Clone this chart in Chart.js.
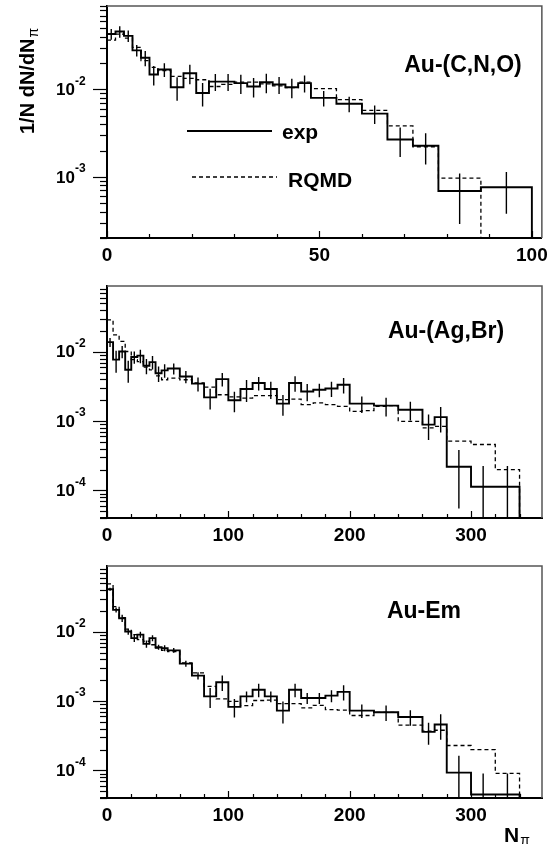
<!DOCTYPE html>
<html><head><meta charset="utf-8">
<script src="https://cdn.jsdelivr.net/npm/chart.js@4/dist/chart.umd.min.js"></script>
<style>
html,body{margin:0;padding:0;background:#fff;}
#wrap{position:relative;width:554px;height:844px;overflow:hidden;background:#fff;}
canvas{position:absolute;left:0;}
</style></head><body>
<div id="wrap">
<canvas id="c1" width="554" height="280" style="top:0;width:554px;height:280px"></canvas>
<canvas id="c2" width="554" height="280" style="top:280px;width:554px;height:280px"></canvas>
<canvas id="c3" width="554" height="284" style="top:560px;width:554px;height:284px"></canvas>
</div>
<script>
// ---------- DATA ----------
// Panel 1: Au-(C,N,O)
const cnoEdges = [0,2,4,6,8,10,12,15,18,21,24,27,30,33,36,39,42,45,48,54,60,66,72,78,88,100];
const cnoExp = [0.043,0.046,0.041,0.028,0.023,0.0148,0.0169,0.0106,0.0153,0.0091,0.0123,0.0123,0.0118,0.0108,0.0121,0.0114,0.0106,0.0118,0.0080,0.00687,0.00529,0.00268,0.00227,0.00069,0.00076];
const cnoExpRelErr = [0.14,0.15,0.15,0.15,0.2,0.25,0.18,0.3,0.25,0.3,0.22,0.22,0.25,0.25,0.25,0.22,0.25,0.22,0.2,0.2,0.24,0.37,0.39,0.58,0.5];
const cnoRqmdEdges = [0,2,4,6,8,10,12,15,18,21,24,27,30,33,36,39,42,45,48,54,60,66,72,78,88];
const cnoRqmd = [0.0367,0.043,0.0386,0.0303,0.0214,0.0179,0.0164,0.0141,0.0134,0.0129,0.0108,0.0114,0.0121,0.0121,0.0116,0.011,0.0105,0.0121,0.0102,0.00763,0.00577,0.00383,0.00221,0.000966];

// Panels 2 & 3 share binning
const heavyExpEdges = [0,5,10,15,20,25,30,35,40,45,50,60,70,80,90,100,110,120,130,140,150,160,170,180,190,200,220,240,260,270,280,300,320,340];
const heavyRqmdEdges = [0,5,10,15,20,25,30,35,40,45,50,60,70,80,90,100,110,120,130,140,150,160,170,180,190,200,210,220,230,240,250,260,270,280,290,300,310,320,330,340];

// Panel 2: Au-(Ag,Br)
const agbrExp = [0.0138,0.0077,0.0101,0.0055,0.0084,0.0088,0.0063,0.0071,0.0049,0.0054,
  0.00575,0.00441,0.00347,0.0022,0.00404,0.0020,0.0029,0.00355,0.0029,0.00179,0.00355,0.00268,0.00284,0.00296,0.00335,
  0.00179,0.00167,0.00146,0.00089,0.00114,0.000219,0.000113,0.000113];
const agbrExpRelErr = [0.15,0.35,0.2,0.35,0.2,0.22,0.25,0.22,0.25,0.22,
  0.18,0.2,0.23,0.33,0.22,0.33,0.35,0.22,0.28,0.33,0.25,0.28,0.22,0.25,0.25,
  0.27,0.3,0.3,0.4,0.4,0.75,1.0,1.0];
const agbrRqmd = [0.0289,0.0176,0.0141,0.0101,0.0077,0.0072,0.006,0.0055,0.0045,0.00395,
  0.00418,0.00395,0.00355,0.0031,0.0024,0.00223,0.00215,0.00233,0.00233,0.00204,0.00208,0.00173,
  0.00183,0.00173,0.00163,0.00138,0.00142,0.00163,0.00167,0.00099,0.00099,0.000797,0.00084,0.000513,0.000513,0.00046,0.00046,0.0002,0.0002];

// Panel 3: Au-Em
const emExp = [0.0411,0.0207,0.0157,0.0101,0.0081,0.0091,0.0067,0.0081,0.006,0.0058,
  0.0054,0.00347,0.00233,0.00117,0.00187,0.000826,0.00117,0.00146,0.00117,0.00073,0.00146,0.00111,0.00111,0.0012,0.00136,
  0.00073,0.00069,0.00059,0.00036,0.00046,0.000093,0.000045,0.000045];
const emExpRelErr = [0.05,0.08,0.12,0.1,0.12,0.1,0.12,0.1,0.08,0.1,
  0.08,0.1,0.12,0.32,0.25,0.3,0.18,0.22,0.18,0.35,0.22,0.18,0.18,0.2,0.25,
  0.22,0.25,0.25,0.35,0.4,0.75,1.0,1.0];
const emRqmd = [0.049,0.0231,0.016,0.0109,0.0091,0.0077,0.0073,0.0065,0.0058,0.0054,
  0.0052,0.00355,0.00255,0.00163,0.00108,0.00099,0.00086,0.00102,0.00103,0.00092,0.00092,0.0008,
  0.00087,0.000755,0.00074,0.00062,0.00062,0.00069,0.00069,0.00045,0.00045,0.00037,0.00038,0.000229,0.000229,0.0002,0.0002,0.0000905,0.0000905];

// Tick labels
const cnoXTicks = [0,50,100];
const heavyXTicks = [0,100,200,300];
const cnoYLabelPowers = [-2,-3];
const heavyYLabelPowers = [-2,-3,-4];

// Text
const panelNames = ['Au-(C,N,O)','Au-(Ag,Br)','Au-Em'];
const legendNames = ['exp','RQMD'];
const yTitle = '1/N dN/dN';
const xTitle = 'N';
const subPi = '\u03c0';

// ---------- helpers ----------
const FONT = "'Liberation Sans', Arial, Helvetica, sans-serif";
const FLOOR = 1e-9;

function stepPoints(edges, vals){
  const pts = [];
  for (let i=0;i<vals.length;i++) pts.push({x:edges[i], y:vals[i]});
  const n = vals.length;
  pts.push({x:edges[n], y:vals[n-1]});
  pts.push({x:edges[n], y:FLOOR});
  return pts;
}
function errPoints(edges, vals, rel){
  const pts = [];
  for (let i=0;i<vals.length;i++){
    const c = (edges[i]+edges[i+1])/2;
    pts.push({x:c, y:Math.max(vals[i]*(1-rel[i]), FLOOR)});
    pts.push({x:c, y:vals[i]*(1+rel[i])});
    pts.push({x:c, y:null});
  }
  return pts;
}

function panelPlugin(cfg){
  return {
    id:'panelDeco'+cfg.idx,
    afterDraw(chart){
      const ctx = chart.ctx, a = chart.chartArea, xs = chart.scales.x, ys = chart.scales.y;
      ctx.save();
      // frame top/right
      ctx.strokeStyle = '#555'; ctx.lineWidth = 1.5;
      ctx.beginPath(); ctx.moveTo(a.left, a.top); ctx.lineTo(a.right, a.top); ctx.lineTo(a.right, a.bottom); ctx.stroke();
      // short extension of x axis to the left
      ctx.strokeStyle = '#000'; ctx.lineWidth = 2;
      ctx.beginPath(); ctx.moveTo(a.left-7, a.bottom); ctx.lineTo(a.left, a.bottom); ctx.stroke();
      // y ticks (outward)
      ctx.lineWidth = 1.2;
      const kmin = Math.floor(Math.log10(ys.min)), kmax = Math.ceil(Math.log10(ys.max));
      for (let k=kmin;k<=kmax;k++) for (let m=1;m<=9;m++){
        const v = m*Math.pow(10,k);
        if (v < ys.min || v > ys.max) continue;
        const py = Math.round(ys.getPixelForValue(v))+0.5;
        const len = m===1 ? 14 : 7;
        ctx.beginPath(); ctx.moveTo(a.left-len, py); ctx.lineTo(a.left, py); ctx.stroke();
      }
      // x ticks (inward)
      for (let v=0; v<=xs.max+1e-9; v+=cfg.xMinor){
        const px = Math.round(xs.getPixelForValue(v))+0.5;
        const major = Math.abs(v % cfg.xMajor) < 1e-6;
        const len = major ? 7 : 4;
        ctx.beginPath(); ctx.moveTo(px, a.bottom); ctx.lineTo(px, a.bottom-len); ctx.stroke();
      }
      // y labels 10^k
      ctx.fillStyle = '#000';
      cfg.yPowers.forEach(k => {
        const py = ys.getPixelForValue(Math.pow(10,k));
        ctx.font = 'bold 17px '+FONT; ctx.textAlign = 'right'; ctx.textBaseline = 'middle';
        ctx.fillText('10', a.left-32, py+1);
        ctx.font = 'bold 12px '+FONT; ctx.textAlign = 'left';
        ctx.fillText(String(k), a.left-32, py-8);
      });
      // panel name
      ctx.font = 'bold 23px '+FONT; ctx.textAlign = 'center'; ctx.textBaseline = 'middle';
      ctx.fillText(cfg.name, cfg.nameX, cfg.nameY);
      if (cfg.legend){
        ctx.strokeStyle = '#000';
        ctx.lineWidth = 1.8; ctx.setLineDash([]);
        ctx.beginPath(); ctx.moveTo(187,131); ctx.lineTo(272,131); ctx.stroke();
        ctx.lineWidth = 1.3; ctx.setLineDash([4,3]);
        ctx.beginPath(); ctx.moveTo(192,177); ctx.lineTo(277,177); ctx.stroke();
        ctx.setLineDash([]);
        ctx.font = 'bold 21px '+FONT; ctx.textAlign = 'left'; ctx.textBaseline = 'middle';
        ctx.fillText(legendNames[0], 282, 133);
        ctx.fillText(legendNames[1], 288, 181);
        // y title
        ctx.save();
        ctx.translate(28, 134); ctx.rotate(-Math.PI/2);
        ctx.font = 'bold 20px '+FONT; ctx.textAlign = 'left'; ctx.textBaseline = 'middle';
        ctx.fillText(yTitle, 0, 0);
        const w = ctx.measureText(yTitle).width;
        ctx.font = '14px '+FONT;
        ctx.fillText(subPi, w+1, 6);
        ctx.restore();
      }
      if (cfg.xTitle){
        ctx.font = 'bold 21px '+FONT; ctx.textAlign = 'left'; ctx.textBaseline = 'alphabetic';
        ctx.fillText(xTitle, 504, 282);
        const w = ctx.measureText(xTitle).width;
        ctx.font = '14px '+FONT;
        ctx.fillText(subPi, 504+w+1, 285);
      }
      ctx.restore();
    }
  };
}

function makeChart(id, cfg){
  const canvas = document.getElementById(id);
  return new Chart(canvas, {
    type:'line',
    data:{datasets:[
      {data:stepPoints(cfg.expEdges, cfg.exp), borderColor:'#000', borderWidth:1.9, stepped:'before', pointRadius:0, fill:false},
      {data:stepPoints(cfg.rqmdEdges, cfg.rqmd), borderColor:'#000', borderWidth:1.3, borderDash:[4,3], stepped:'before', pointRadius:0, fill:false},
      {data:errPoints(cfg.expEdges, cfg.exp, cfg.err), borderColor:'#000', borderWidth:1.4, pointRadius:0, fill:false, spanGaps:false}
    ]},
    options:{
      responsive:false, animation:false, devicePixelRatio:1,
      layout:{padding:{top:6,right:12,left:0,bottom:0}},
      plugins:{legend:{display:false}, tooltip:{enabled:false}},
      events:[],
      scales:{
        x:{type:'linear', min:0, max:cfg.xMax,
           grid:{display:false, drawTicks:false},
           border:{display:true, color:'#000', width:2},
           ticks:{color:'#000', font:{family:FONT, size:19, weight:'bold'}, padding:6, maxRotation:0, autoSkip:false},
           afterBuildTicks:(s)=>{ s.ticks = cfg.xTicks.map(v=>({value:v})); },
           afterFit:(s)=>{ s.height = cfg.axisH; }
        },
        y:{type:'logarithmic', min:cfg.yMin, max:cfg.yMax,
           grid:{display:false, drawTicks:false},
           border:{display:true, color:'#000', width:2},
           ticks:{display:false},
           afterFit:(s)=>{ s.width = 107; }
        }
      }
    },
    plugins:[panelPlugin(cfg)]
  });
}

makeChart('c1', {idx:1, expEdges:cnoEdges, exp:cnoExp, err:cnoExpRelErr, rqmdEdges:cnoRqmdEdges, rqmd:cnoRqmd,
  xMax:102.35, yMin:2.0e-4, yMax:0.09, xTicks:cnoXTicks, xMinor:10, xMajor:50, yPowers:cnoYLabelPowers,
  axisH:42, name:panelNames[0], nameX:463, nameY:66, legend:true});
makeChart('c2', {idx:2, expEdges:heavyExpEdges, exp:agbrExp, err:agbrExpRelErr, rqmdEdges:heavyRqmdEdges, rqmd:agbrRqmd,
  xMax:358.5, yMin:4.0e-5, yMax:0.089, xTicks:heavyXTicks, xMinor:20, xMajor:100, yPowers:heavyYLabelPowers,
  axisH:42, name:panelNames[1], nameX:446, nameY:52});
makeChart('c3', {idx:3, expEdges:heavyExpEdges, exp:emExp, err:emExpRelErr, rqmdEdges:heavyRqmdEdges, rqmd:emRqmd,
  xMax:358.5, yMin:4.0e-5, yMax:0.089, xTicks:heavyXTicks, xMinor:20, xMajor:100, yPowers:heavyYLabelPowers,
  axisH:46, name:panelNames[2], nameX:424, nameY:52, xTitle:true});
</script>
</body></html>
